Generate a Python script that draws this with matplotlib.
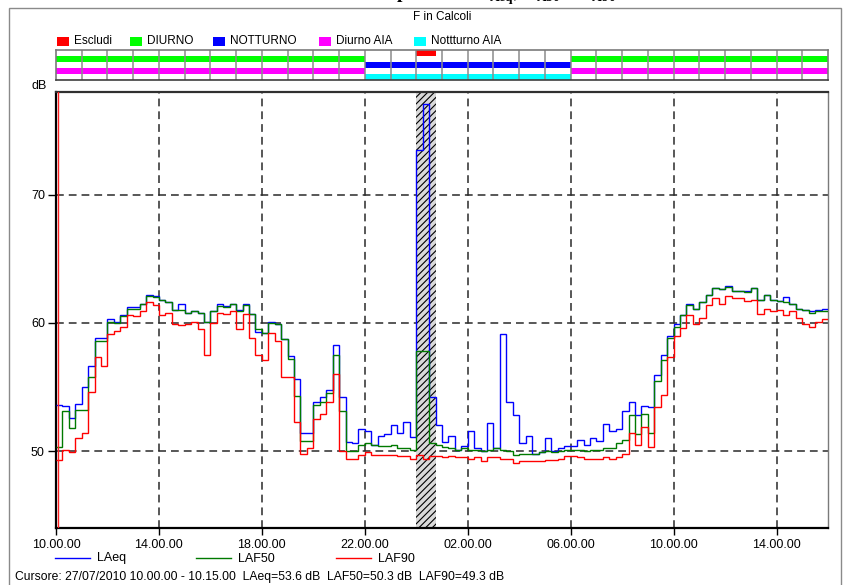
import numpy as np
import matplotlib
matplotlib.use("Agg")
import matplotlib.pyplot as plt
from matplotlib.lines import Line2D
from matplotlib.patches import Rectangle

plt.rcParams['font.family'] = ['Liberation Sans', 'DejaVu Sans']
plt.rcParams['mathtext.fontset'] = 'custom'
plt.rcParams['mathtext.rm'] = 'Liberation Serif:bold'
plt.rcParams['mathtext.bf'] = 'Liberation Serif:bold'
plt.rcParams['lines.scale_dashes'] = False
plt.rcParams['hatch.linewidth'] = 0.8

# ---------------- data (15-minute intervals from 27/07/2010 10.00) ----------------
laeq = [53.6, 53.5, 52.6, 53.7, 55.0, 56.6, 58.8, 58.8, 60.3, 60.1,
        60.6, 61.2, 61.2, 61.5, 62.2, 62.1, 61.8, 61.6, 61.0, 61.5,
        60.8, 60.9, 60.8, 60.1, 60.9, 61.5, 61.3, 61.5, 61.0, 61.5,
        60.7, 59.3, 59.2, 60.1, 59.9, 58.7, 57.4, 55.6, 51.4, 51.4,
        53.8, 54.2, 54.8, 58.3, 54.2, 50.7, 50.6, 51.7, 51.6, 50.5,
        51.2, 51.3, 52.0, 51.4, 52.3, 51.1, 73.5, 77.1, 54.2, 52.0,
        50.7, 51.2, 50.1, 50.4, 51.6, 50.2, 50.0, 52.2, 50.2, 59.1,
        53.8, 52.8, 50.6, 51.2, 49.8, 49.9, 51.0, 50.0, 50.2, 50.4,
        50.4, 50.9, 50.5, 51.0, 50.8, 52.1, 51.6, 51.7, 53.1, 53.8,
        52.8, 53.5, 53.4, 55.9, 57.5, 59.0, 59.9, 60.6, 61.5, 61.1,
        61.6, 62.2, 62.7, 62.6, 62.9, 62.5, 62.5, 62.5, 62.7, 61.8,
        62.2, 61.8, 61.7, 62.0, 61.5, 61.1, 61.0, 60.9, 61.0, 61.1]

laf50 = [50.3, 53.1, 51.8, 53.2, 53.2, 55.8, 58.6, 58.6, 60.1, 60.0,
         60.5, 61.1, 61.1, 61.5, 62.1, 62.0, 61.8, 61.6, 61.0, 61.0,
         60.8, 60.9, 60.8, 60.1, 60.9, 61.3, 61.2, 61.5, 60.9, 61.4,
         60.7, 59.5, 59.2, 60.0, 59.9, 58.7, 57.2, 54.3, 50.8, 50.8,
         53.6, 53.8, 54.5, 57.5, 53.1, 50.0, 50.0, 50.5, 50.6, 50.5,
         50.4, 50.4, 50.5, 50.2, 50.2, 50.1, 57.8, 57.8, 50.6, 50.5,
         50.3, 50.2, 50.1, 50.2, 50.1, 50.1, 50.0, 50.1, 50.2, 50.1,
         50.0, 49.7, 49.8, 49.8, 49.8, 49.9, 50.0, 49.9, 50.0, 50.1,
         50.1, 50.1, 50.0, 50.1, 50.1, 50.2, 50.2, 50.6, 50.9, 52.8,
         51.3, 52.9, 51.4, 55.5, 57.1, 58.8, 59.7, 60.6, 61.4, 61.1,
         61.6, 62.2, 62.7, 62.6, 62.8, 62.5, 62.5, 62.4, 62.7, 61.8,
         62.2, 61.8, 61.7, 61.6, 61.5, 61.1, 61.0, 60.8, 60.9, 60.9]

laf90 = [49.3, 50.1, 49.95, 51.0, 51.4, 54.6, 57.3, 56.6, 59.1, 59.4,
         59.7, 60.6, 60.5, 60.9, 61.6, 61.4, 60.6, 60.8, 59.9, 59.8,
         59.9, 60.1, 59.5, 57.5, 60.0, 60.8, 60.7, 60.9, 59.5, 60.7,
         58.8, 57.5, 57.1, 59.2, 58.6, 55.8, 55.8, 52.3, 49.8, 50.2,
         52.5, 52.9, 53.8, 56.0, 50.0, 49.4, 49.4, 49.7, 49.9, 49.7,
         49.7, 49.7, 49.7, 49.6, 49.6, 49.4, 49.7, 49.35, 49.6, 49.6,
         49.5, 49.6, 49.5, 49.5, 49.4, 49.5, 49.2, 49.5, 49.5, 49.4,
         49.35, 49.1, 49.2, 49.2, 49.2, 49.2, 49.3, 49.3, 49.4, 49.6,
         49.6, 49.5, 49.4, 49.4, 49.4, 49.5, 49.4, 49.5, 49.8, 51.4,
         50.5, 51.9, 50.3, 53.4, 54.4, 57.3, 59.0, 59.6, 60.6, 59.9,
         60.4, 61.4, 61.9, 61.5, 62.1, 61.9, 61.9, 61.7, 61.8, 60.7,
         61.1, 60.9, 61.0, 60.6, 60.9, 60.4, 59.9, 59.7, 60.1, 60.3]

series_names = ["LAeq", "LAF50", "LAF90"]
series_colors = ["#0000ff", "#007a00", "#ff0000"]

step_hours = 0.25                      # 15 minutes
tick_hours = [0, 4, 8, 12, 16, 20, 24, 28]
tick_labels = ["10.00.00", "14.00.00", "18.00.00", "22.00.00",
               "02.00.00", "06.00.00", "10.00.00", "14.00.00"]
y_ticks = [50, 60, 70]
y_range = (44, 78)

# time-band rows (hours after 10.00): (start, duration)
band_names = ["Escludi", "DIURNO", "NOTTURNO", "Diurno AIA", "Nottturno AIA"]
band_colors = ["#ff0000", "#00ff00", "#0000ff", "#ff00ff", "#00ffff"]
band_periods = [
    [(14.0, 0.75)],
    [(0, 12), (20, 10)],
    [(12, 8)],
    [(0, 12), (20, 10)],
    [(12, 8)],
]
excluded = [(14.0, 0.75)]
cursor_hour = 0.09
cursor_text = ("Cursore: 27/07/2010 10.00.00 - 10.15.00  LAeq=53.6 dB  "
               "LAF50=50.3 dB  LAF90=49.3 dB")

# ---------------- figure ----------------
W, H = 850, 585
fig = plt.figure(figsize=(W / 100, H / 100), dpi=100)
fig.patch.set_facecolor("white")


def fx(px):
    return px / W


def fy(py):
    return 1 - py / H


# outer frame
fig.patches.append(Rectangle((fx(9), fy(600)), fx(841) - fx(9), fy(8) - fy(600),
                             transform=fig.transFigure, fill=False,
                             edgecolor="#8a8a8a", lw=1.0))

# title, cut off by the top edge as in the original
fig.text(fx(440), fy(-1.5),
         r"Andamento temporale di L$_{\mathrm{Aeq}}$, L$_{\mathrm{A50}}$ e L$_{\mathrm{A90}}$",
         ha="center", va="baseline", fontsize=14, fontweight="bold",
         family=["Liberation Serif", "DejaVu Serif"])
fig.text(fx(442), fy(17), "F in Calcoli", ha="center", va="center", fontsize=8.5)

# band legend row
leg_x = [57, 130, 213, 319, 414]
for x0, name, col in zip(leg_x, band_names, band_colors):
    fig.patches.append(Rectangle((fx(x0), fy(46)), 12 / W, 9 / H,
                                 transform=fig.transFigure, facecolor=col,
                                 edgecolor="none"))
    fig.text(fx(x0 + 17), fy(41), name, ha="left", va="center", fontsize=8.5)

nsteps = len(laeq)
edges = np.arange(nsteps + 1) * step_hours
xmax = edges[-1]

# band axes
band = fig.add_axes([fx(56), fy(80), fx(828) - fx(56), 30 / H])
band.set_xlim(0, xmax)
band.set_ylim(len(band_names), 0)
for r, (periods, col) in enumerate(zip(band_periods, band_colors)):
    band.broken_barh(periods, (r, 1), facecolors=col, edgecolor="none", zorder=1)
for h in range(1, int(xmax)):
    band.axvline(h, color="#8c8c8c", lw=1.1, zorder=2)
band.set_xticks([])
band.set_yticks([])
for s in band.spines.values():
    s.set_color("#7a7a7a")
    s.set_linewidth(1.2)
band.spines["bottom"].set_color("#404040")

# main axes
ax = fig.add_axes([fx(56), fy(528), fx(828) - fx(56), fy(92) - fy(528)])
ax.set_xlim(0, xmax)
ax.set_ylim(*y_range)

grid_kw = dict(color="#2a2a2a", lw=1.1, ls=(0, (5.6, 3.6)), zorder=1)
for y in y_ticks:
    ax.axhline(y, **grid_kw)
for h in tick_hours[1:]:
    ax.axvline(h, **grid_kw)

for start, dur in excluded:
    ax.axvspan(start, start + dur, facecolor="#d9d9d9", edgecolor="black",
               hatch="/////", lw=0, zorder=2)

for vals, col, z in zip([laeq, laf50, laf90], series_colors, [3, 4, 5]):
    ax.stairs(vals, edges, color=col, lw=1.0, baseline=None, zorder=z)

ax.axvline(cursor_hour, color="#ff2020", lw=1.0, zorder=6)

ax.set_yticks(y_ticks)
ax.set_yticklabels([str(v) for v in y_ticks])
ax.set_xticks(tick_hours)
ax.set_xticklabels(tick_labels)
ax.tick_params(axis="y", direction="out", length=6, width=1.0, pad=2,
               labelsize=9, colors="black")
ax.tick_params(axis="x", direction="out", length=5, width=1.0, pad=3,
               labelsize=9, colors="black")
ax.spines["left"].set_linewidth(1.6)
ax.spines["bottom"].set_linewidth(1.6)
ax.spines["top"].set_linewidth(1.6)
ax.spines["top"].set_color("#303030")
ax.spines["right"].set_linewidth(1.0)
ax.spines["right"].set_color("#7a7a7a")

fig.text(fx(39), fy(86), "dB", ha="center", va="center", fontsize=9)

# series legend below
leg_line_x = [55, 196, 336]
for x0, name, col in zip(leg_line_x, series_names, series_colors):
    fig.lines.append(Line2D([fx(x0), fx(x0 + 35)], [fy(558), fy(558)],
                            transform=fig.transFigure, color=col, lw=1.0))
    fig.text(fx(x0 + 42), fy(558.5), name, ha="left", va="center", fontsize=9)

fig.text(fx(15), fy(577), cursor_text, ha="left", va="center", fontsize=8.7)

fig.savefig("out.png", dpi=100)
